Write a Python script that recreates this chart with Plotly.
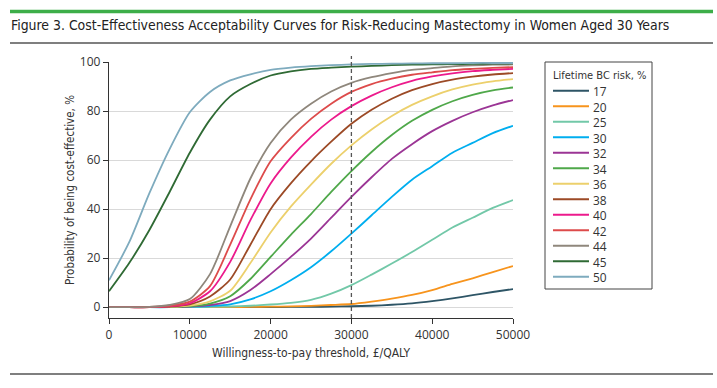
import plotly.graph_objects as go

# ---------------- data ----------------
wtp = [0, 2500, 5000, 7500, 10000, 12500, 15000, 17500, 20000, 22500, 25000,
       27500, 30000, 32500, 35000, 37500, 40000, 42500, 45000, 47500, 50000]

risk_labels = ["17", "20", "25", "30", "32", "34", "36", "38", "40", "42", "44", "45", "50"]

p17 = [0, 0, 0, 0, 0, 0, 0, 0.02, 0.05, 0.1, 0.15, 0.25, 0.4, 0.6, 1.0, 1.6, 2.5, 3.6, 4.9, 6.2, 7.4]
p20 = [0, 0, 0, 0, 0, 0, 0.05, 0.1, 0.2, 0.35, 0.55, 0.9, 1.3, 2.3, 3.5, 5.0, 7.0, 9.5, 11.8, 14.3, 16.8]
p25 = [0, 0, 0, 0, 0.05, 0.15, 0.3, 0.6, 1.1, 1.8, 3.0, 5.5, 9.0, 13.3, 17.8, 22.5, 27.5, 32.5, 36.5, 40.5, 43.7]
p30 = [0, 0, 0, 0, 0.2, 0.5, 1.2, 3.2, 6.5, 11.0, 16.3, 22.8, 30.0, 37.5, 45.0, 52.0, 57.5, 63.0, 67.0, 71.0, 74.0]
p32 = [0, 0, 0, 0.05, 0.3, 0.9, 2.5, 7.0, 13.5, 20.5, 28.0, 36.5, 45.0, 53.0, 60.5, 66.5, 71.8, 76.0, 79.5, 82.3, 84.5]
p34 = [0, 0, 0, 0.1, 0.4, 1.5, 4.5, 11.5, 20.5, 29.5, 38.0, 47.0, 55.5, 63.3, 70.2, 76.0, 80.5, 84.0, 86.6, 88.4, 89.6]
p36 = [0, 0, 0, 0.2, 0.7, 2.4, 6.7, 18.0, 30.5, 41.0, 50.0, 58.5, 66.0, 72.5, 78.0, 82.5, 86.0, 88.8, 90.8, 92.1, 93.0]
p38 = [0, 0, 0, 0.3, 1.2, 4.4, 11.3, 25.5, 40.0, 50.5, 59.5, 67.5, 74.8, 80.5, 85.0, 88.5, 91.0, 92.8, 94.0, 94.9, 95.5]
p40 = [0, 0, 0, 0.4, 1.6, 6.5, 18.5, 35.5, 50.5, 61.0, 69.5, 76.5, 82.0, 86.3, 89.7, 92.3, 94.1, 95.4, 96.3, 96.8, 97.2]
p42 = [0, 0, 0.1, 0.6, 2.3, 8.6, 25.5, 44.0, 59.5, 69.0, 76.8, 83.0, 87.8, 91.0, 93.2, 94.8, 95.8, 96.7, 97.2, 97.6, 97.9]
p44 = [0, 0, 0.1, 0.9, 3.3, 13.5, 33.0, 52.5, 67.0, 76.5, 83.0, 88.0, 91.5, 93.8, 95.5, 96.8, 97.5, 98.2, 98.6, 98.9, 99.0]
p45 = [6.5, 18.0, 31.5, 47.0, 63.0, 76.5, 86.0, 91.0, 94.5, 96.2, 97.2, 97.7, 98.1, 98.4, 98.7, 98.9, 99.0, 99.1, 99.2, 99.3, 99.4]
p50 = [11.0, 26.5, 46.5, 64.5, 79.5, 87.8, 92.5, 95.0, 96.8, 97.7, 98.3, 98.7, 99.0, 99.2, 99.3, 99.4, 99.5, 99.5, 99.6, 99.6, 99.6]

series = [p17, p20, p25, p30, p32, p34, p36, p38, p40, p42, p44, p45, p50]

x_ticks = [0, 10000, 20000, 30000, 40000, 50000]
y_ticks = [0, 20, 40, 60, 80, 100]
threshold = 30000

# ---------------- style ----------------
colors = ["#2e5566", "#f7941d", "#72c8a8", "#00aeef", "#9b3595", "#4fa84a",
          "#ecd06c", "#9c4a26", "#ec1a8c", "#dd4b4b", "#8f877c", "#2f6a34", "#7eabbe"]

TXT = "#333333"
NARROW = "DejaVu Sans Condensed, Liberation Sans Narrow, sans-serif"
SANS = "Open Sans, Noto Sans, sans-serif"

L, R, T, B = 109, 204, 62, 70
W, H = 717, 388
PW, PH = W - L - R, H - T - B
ITEM_GAP = 15.5


def px_x(px):
    return (px - L) / PW


def px_y(py):
    return (H - B - py) / PH


fig = go.Figure()
for lab, ys, col in zip(risk_labels, series, colors):
    fig.add_trace(go.Scatter(
        x=wtp, y=ys, mode="lines", name=lab,
        line=dict(color=col, width=1.8, shape="spline", smoothing=0.7),
        showlegend=False, hoverinfo="x+y+name"))

shapes = []
annotations = []

# dashed threshold line
shapes.append(dict(type="line", xref="x", yref="paper", x0=threshold, x1=threshold,
                   y0=0, y1=px_y(56), line=dict(color="#555555", width=1.3, dash="4px,3px")))

# top green bar, rules
shapes.append(dict(type="line", xref="paper", yref="paper", x0=px_x(10), x1=px_x(713),
                   y0=px_y(11.5), y1=px_y(11.5), line=dict(color="#3dae49", width=3.5)))
shapes.append(dict(type="line", xref="paper", yref="paper", x0=px_x(10), x1=px_x(713),
                   y0=px_y(43), y1=px_y(43), line=dict(color="#555555", width=1.5)))
shapes.append(dict(type="line", xref="paper", yref="paper", x0=px_x(10), x1=px_x(713),
                   y0=px_y(374), y1=px_y(374), line=dict(color="#555555", width=1.5)))

# legend box (drawn by hand for the reference's tight row spacing)
shapes.append(dict(type="rect", xref="paper", yref="paper", x0=px_x(545), x1=px_x(652),
                   y0=px_y(289), y1=px_y(62), line=dict(color="#444444", width=1),
                   fillcolor="rgba(0,0,0,0)"))
annotations.append(dict(xref="paper", yref="paper", x=px_x(552), y=px_y(75),
                        xanchor="left", yanchor="middle", showarrow=False, borderpad=0,
                        text="Lifetime BC risk, %", font=dict(family=NARROW, size=11, color=TXT)))
first_y = 90.7
for i, col in enumerate(colors):
    yy = px_y(first_y + ITEM_GAP * i)
    shapes.append(dict(type="line", xref="paper", yref="paper", x0=px_x(553), x1=px_x(589),
                       y0=yy, y1=yy, line=dict(color=col, width=2)))
mid_y = first_y + ITEM_GAP * (len(risk_labels) - 1) / 2
annotations.append(dict(xref="paper", yref="paper", x=px_x(592), y=px_y(mid_y + 0.5),
                        xanchor="left", yanchor="middle", align="left", showarrow=False,
                        borderpad=0, text="<br>".join(risk_labels),
                        font=dict(family=SANS, size=ITEM_GAP / 1.3, color=TXT)))

fig.update_layout(
    width=W, height=H,
    margin=dict(l=L, r=R, t=T, b=B),
    paper_bgcolor="white", plot_bgcolor="white",
    title=dict(text="Figure 3. Cost-Effectiveness Acceptability Curves for Risk-Reducing Mastectomy in Women Aged 30 Years",
               x=11 / W, y=1 - 25 / H, xref="container", yref="container",
               xanchor="left", yanchor="middle",
               font=dict(family=NARROW, size=13.9, color="#222222")),
    shapes=shapes, annotations=annotations,
    showlegend=False,
    xaxis=dict(range=[0, 50000], tickvals=x_ticks, ticktext=[str(v) for v in x_ticks],
               showgrid=False, zeroline=False, showline=True, linecolor="#333333", linewidth=1.3,
               ticks="outside", ticklen=5, tickcolor="#333333",
               tickfont=dict(family=SANS, size=12, color=TXT),
               title=dict(text="Willingness-to-pay threshold, £/QALY", standoff=7,
                          font=dict(family=NARROW, size=12, color=TXT))),
    yaxis=dict(range=[-4.4, 100], tickvals=y_ticks,
               showgrid=True, gridcolor="#d9d9d9", gridwidth=1, zeroline=False,
               showline=True, linecolor="#333333", linewidth=1.3,
               ticks="outside", ticklen=5, tickcolor="#333333",
               tickfont=dict(family=SANS, size=12, color=TXT),
               title=dict(text="Probability of being cost-effective, %", standoff=2,
                          font=dict(family=NARROW, size=11.5, color=TXT))),
)

fig.write_html("out.html",
               config={"displayModeBar": False},
               post_script="document.body.style.margin='0';document.body.style.overflow='hidden';")
